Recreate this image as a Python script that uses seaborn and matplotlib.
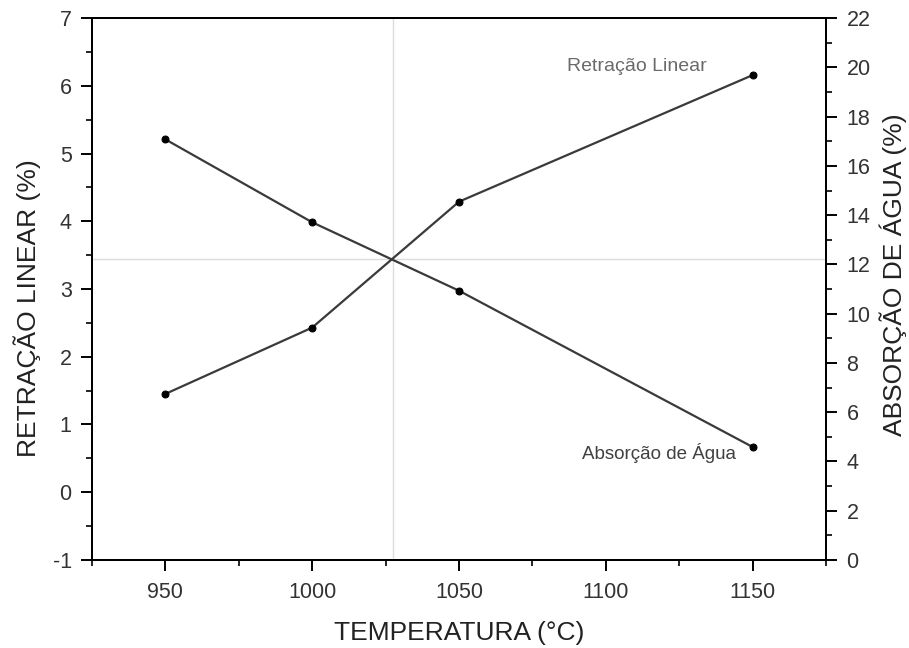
import numpy as np
import matplotlib.pyplot as plt
from matplotlib.ticker import MultipleLocator
import pandas as pd
import seaborn as sns

temperatura = [950, 1000, 1050, 1150]
retracao = [1.45, 2.43, 4.29, 6.16]
absorcao = [17.08, 13.71, 10.93, 4.58]

# crosshair through the intersection of the two curves
cross_x = 1027.6
cross_y = 3.44

df = pd.DataFrame({'temperatura': temperatura, 'retracao': retracao, 'absorcao': absorcao})

sns.set_style("ticks")
plt.rcParams['font.family'] = ['Liberation Sans', 'DejaVu Sans']
plt.rcParams['axes.unicode_minus'] = False

fig = plt.figure(figsize=(9.09, 6.48), dpi=100)
ax = fig.add_axes([0.101, 0.136, 0.808, 0.836])
ax2 = ax.twinx()

ax.axvline(cross_x, color='#dddddd', lw=1, zorder=0)
ax.axhline(cross_y, color='#dddddd', lw=1, zorder=0)

sns.lineplot(data=df, x='temperatura', y='retracao', ax=ax, color='#3a3a3a', lw=1.6,
             marker='o', markersize=5, markerfacecolor='black', markeredgecolor='black')
sns.lineplot(data=df, x='temperatura', y='absorcao', ax=ax2, color='#3a3a3a', lw=1.6,
             marker='o', markersize=5, markerfacecolor='black', markeredgecolor='black')

ax.set_xlim(925, 1175)
ax.set_ylim(-1, 7)
ax2.set_ylim(0, 22)

ax.xaxis.set_major_locator(MultipleLocator(50))
ax.xaxis.set_minor_locator(MultipleLocator(25))
ax.yaxis.set_major_locator(MultipleLocator(1))
ax.yaxis.set_minor_locator(MultipleLocator(0.5))
ax2.yaxis.set_major_locator(MultipleLocator(2))
ax2.yaxis.set_minor_locator(MultipleLocator(1))

for a in (ax, ax2):
    a.tick_params(which='major', direction='out', length=8, width=1.4, colors='black',
                  labelsize=15.5, labelcolor='#333333', pad=6.5)
    a.tick_params(which='minor', direction='out', length=4, width=1.2, colors='black')
    for s in a.spines.values():
        s.set_linewidth(1.4)
        s.set_color('black')
        s.set_visible(True)
ax.tick_params(axis='x', which='major', pad=8)

ax.set_xlabel('TEMPERATURA (°C)', fontsize=19, color='#222222', labelpad=13)
ax.set_ylabel('RETRAÇÃO LINEAR (%)', fontsize=19, color='#222222', labelpad=8)
ax2.set_ylabel('ABSORÇÃO DE ÁGUA (%)', fontsize=19, color='#222222', labelpad=6)
# the two y titles sit off-centre in the original
ax.yaxis.label.set_y(0.465)
ax2.yaxis.label.set_y(0.526)

ax.text(1110.5, 6.28, 'Retração Linear', fontsize=14, color='#6a6a6a', ha='center', va='center')
ax2.text(1118, 4.35, 'Absorção de Água', fontsize=13.5, color='#404040', ha='center', va='center')

fig.savefig('out.png', dpi=100)
